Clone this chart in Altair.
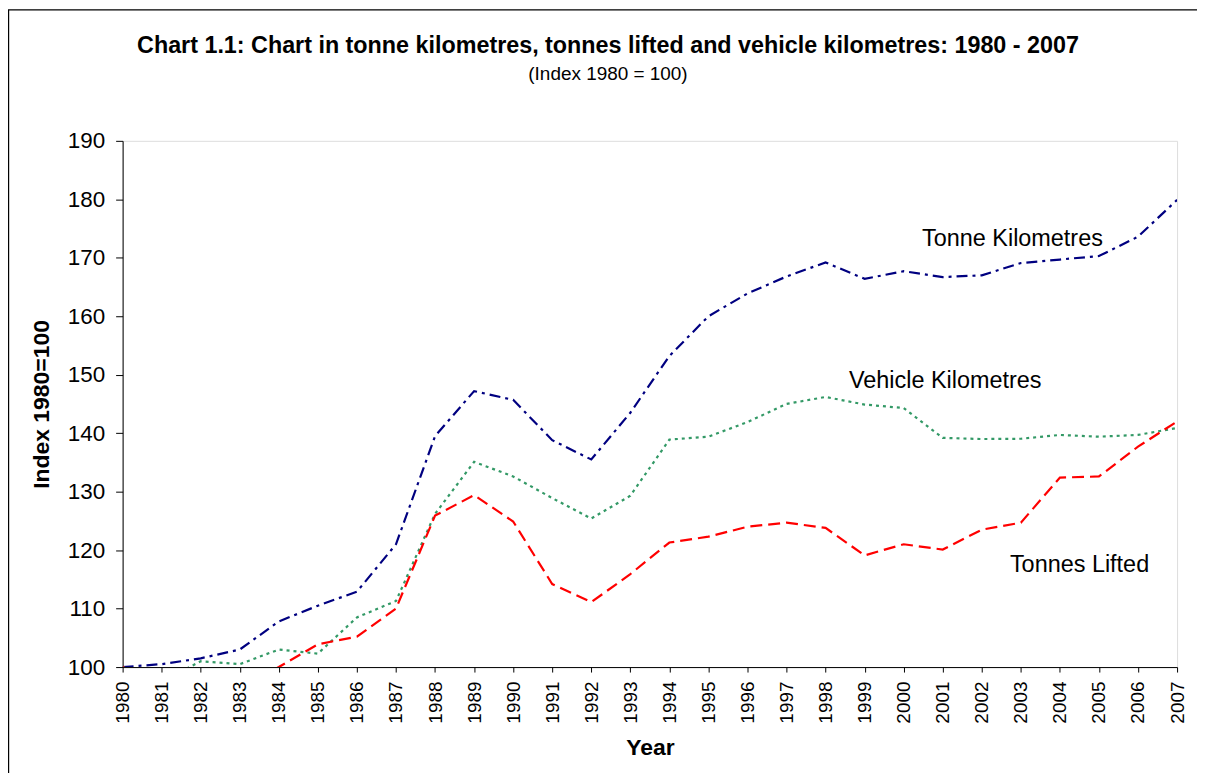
import altair as alt
import pandas as pd

years = list(range(1980, 2008))
tonne_km = [100, 100.5, 101.5, 103, 107.8, 110.5, 112.9, 121, 139.5, 147.2,
            145.7, 138.8, 135.5, 143.5, 153.2, 160, 163.9, 166.8, 169.2, 166.4,
            167.7, 166.7, 167, 169.1, 169.7, 170.3, 173.6, 179.9]
vehicle_km = [100, 97.5, 101, 100.5, 103, 102.3, 108.5, 111.3, 126.2, 135.1,
              132.6, 128.9, 125.4, 129.3, 138.9, 139.4, 141.9, 145, 146.2, 144.9,
              144.3, 139.2, 139, 139.05, 139.7, 139.4, 139.7, 140.9]
tonnes_lifted = [100, 97, 95.5, 96.5, 100, 103.9, 105.2, 110, 125.9, 129.4,
                 124.9, 114.2, 111.1, 115.9, 121.3, 122.3, 124, 124.7, 123.8, 119.1,
                 121, 120.1, 123.5, 124.7, 132.4, 132.6, 137.7, 142]

label_text = ["Tonne Kilometres", "Vehicle Kilometres", "Tonnes Lifted"]
label_year = [2000.47, 1998.6, 2002.72]
label_value = [172.1, 147.7, 116.2]

y_ticks = list(range(100, 191, 10))

FONT = "Liberation Sans"
W, H = 1058, 528

df = pd.DataFrame({"Year": years, "tk": tonne_km, "vk": vehicle_km, "tl": tonnes_lifted})
lab = pd.DataFrame({"text": label_text, "Year": label_year, "v": label_value})

x_scale = alt.Scale(domain=[1980, 2007], nice=False, zero=False)
x_axis = alt.Axis(values=years, format="d", title="Year",
                  labelAngle=270, labelAlign="right", labelBaseline="middle",
                  labelFontSize=19, labelPadding=9, tickSize=5,
                  labelOverlap=False, labelFlush=False,
                  titleFontSize=23, titleFontWeight="bold", titlePadding=13,
                  grid=False, domainColor="#000", tickColor="#000",
                  labelColor="#000", titleColor="#000")
y_scale = alt.Scale(domain=[100, 190], nice=False, zero=False)
y_axis = alt.Axis(values=y_ticks, title="Index 1980=100", labelFontSize=22.5,
                  labelPadding=11, tickSize=7, labelOverlap=False, labelFlush=False,
                  titleFontSize=23, titleFontWeight="bold",
                  titlePadding=14, grid=False, domainColor="#000", tickColor="#000",
                  labelColor="#000", titleColor="#000")


def xe():
    return alt.X("Year:Q", scale=x_scale, axis=x_axis, title="Year")


def ye(field):
    return alt.Y(field, scale=y_scale, axis=y_axis, title="Index 1980=100")


base = alt.Chart(df)

tk_line = base.mark_line(color="#000080", strokeWidth=2.2, strokeDash=[11, 5, 3, 5], clip=True).encode(
    x=xe(), y=ye("tk:Q"))
vk_line = base.mark_line(color="#339966", strokeWidth=2.2, strokeDash=[3, 4], clip=True).encode(
    x=xe(), y=ye("vk:Q"))
tl_line = base.mark_line(color="#FF0000", strokeWidth=2.2, strokeDash=[12, 6], clip=True).encode(
    x=xe(), y=ye("tl:Q"))

labels = alt.Chart(lab).mark_text(font=FONT, fontSize=23.5, align="left",
                                  baseline="alphabetic", color="#000").encode(
    x=xe(), y=ye("v:Q"), text="text:N")

frame = alt.Chart(alt.Data(values=[{"f": 1}])).mark_rect(
    filled=False, stroke="#000", strokeWidth=1.2, clip=False).encode(
    x=alt.value(-114.4), x2=alt.value(W + 200), y=alt.value(-131.4), y2=alt.value(H + 300))

chart = alt.layer(frame, tk_line, vk_line, tl_line, labels).properties(
    width=W, height=H,
    title=alt.TitleParams(
        text="Chart 1.1: Chart in tonne kilometres, tonnes lifted and vehicle kilometres: 1980 - 2007",
        subtitle="(Index 1980 = 100)",
        font=FONT, fontSize=23.4, fontWeight="bold", color="#000",
        subtitleFont=FONT, subtitleFontSize=19, subtitleColor="#000",
        subtitlePadding=7, anchor="middle", dx=-42, offset=-76),
    autosize=alt.AutoSizeParams(type="none"),
    padding={"left": 115, "top": 132, "right": 20, "bottom": 105},
).configure_view(stroke="#808080", strokeWidth=1.5).configure_axis(
    labelFont=FONT, titleFont=FONT
).configure(background="white")

chart.save("out.html", embed_options={"renderer": "svg", "actions": False})
